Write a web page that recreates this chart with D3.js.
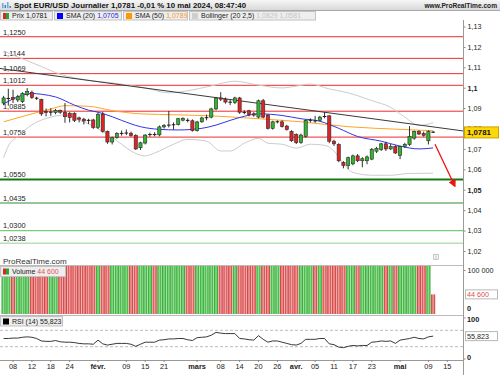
<!DOCTYPE html>
<html>
<head>
<meta charset="utf-8">
<script src="https://cdn.jsdelivr.net/npm/d3@7"></script>
<style>
  body { margin: 0; background: #fff; }
  svg { display: block; font-family: "Liberation Sans", Arial, sans-serif; }
</style>
</head>
<body>
<div id="chart"></div>
<script>
// trading days shown (MM-DD, 2024)
const days = ["01-04","01-05","01-08","01-09","01-10","01-11","01-12","01-15","01-16","01-17","01-18","01-19","01-22","01-23","01-24","01-25","01-26","01-29","01-30","01-31",
  "02-01","02-02","02-05","02-06","02-07","02-08","02-09","02-12","02-13","02-14","02-15","02-16","02-19","02-20","02-21","02-22","02-23","02-26","02-27","02-28","02-29",
  "03-01","03-04","03-05","03-06","03-07","03-08","03-11","03-12","03-13","03-14","03-15","03-18","03-19","03-20","03-21","03-22","03-25","03-26","03-27","03-28","03-29",
  "04-01","04-02","04-03","04-04","04-05","04-08","04-09","04-10","04-11","04-12","04-15","04-16","04-17","04-18","04-19","04-22","04-23","04-24","04-25","04-26","04-29","04-30",
  "05-01","05-02","05-03","05-06","05-07","05-08","05-09","05-10"];
const futureDays = ["05-13","05-14","05-15","05-16","05-17"];

const opens  = [1.0925,1.0946,1.0952,1.0940,1.0932,1.0967,1.0976,1.0950,1.0943,1.0884,1.0879,1.0878,1.0889,1.0879,1.0875,1.0874,1.0852,1.0846,1.0842,1.0842,
  1.0806,1.0870,1.0786,1.0734,1.0757,1.0775,1.0777,1.0777,1.0766,1.0706,1.0729,1.0770,1.0771,1.0769,1.0808,1.0815,1.0818,1.0820,1.0841,1.0842,1.0838,
  1.0790,1.0833,1.0852,1.0856,1.0896,1.0950,1.0944,1.0930,1.0927,1.0950,1.0880,1.0887,1.0872,1.0856,1.0936,1.0866,1.0801,1.0832,1.0833,1.0812,1.0785,
  1.0771,1.0731,1.0761,1.0840,1.0838,1.0840,1.0860,1.0862,1.0738,1.0722,1.0634,1.0618,1.0627,1.0666,1.0642,1.0642,1.0650,1.0689,1.0698,1.0725,1.0700,1.0712,
  1.0668,1.0712,1.0722,1.0753,1.0785,1.0775,1.0740,1.0783];
const highs  = [1.0960,1.0995,1.0990,1.0965,1.0978,1.0998,1.0986,1.0956,1.0946,1.0898,1.0900,1.0896,1.0893,1.0925,1.0880,1.0880,1.0858,1.0852,1.0848,1.0848,
  1.0878,1.0882,1.0790,1.0760,1.0782,1.0790,1.0795,1.0785,1.0772,1.0735,1.0772,1.0780,1.0782,1.0815,1.0822,1.0886,1.0830,1.0852,1.0855,1.0850,1.0845,
  1.0838,1.0858,1.0868,1.0902,1.0955,1.0978,1.0952,1.0940,1.0956,1.0955,1.0890,1.0892,1.0880,1.0942,1.0945,1.0870,1.0838,1.0840,1.0840,1.0818,1.0792,
  1.0776,1.0775,1.0845,1.0850,1.0862,1.0862,1.0880,1.0866,1.0745,1.0728,1.0640,1.0662,1.0672,1.0675,1.0660,1.0668,1.0705,1.0710,1.0730,1.0735,1.0725,1.0718,
  1.0716,1.0730,1.0812,1.0790,1.0792,1.0785,1.0792,1.0788];
const lows   = [1.0915,1.0912,1.0925,1.0930,1.0925,1.0958,1.0945,1.0940,1.0862,1.0860,1.0862,1.0870,1.0872,1.0828,1.0830,1.0832,1.0830,1.0820,1.0822,1.0798,
  1.0798,1.0780,1.0725,1.0722,1.0750,1.0765,1.0768,1.0760,1.0695,1.0695,1.0722,1.0760,1.0762,1.0762,1.0800,1.0805,1.0795,1.0815,1.0835,1.0830,1.0785,
  1.0785,1.0828,1.0840,1.0850,1.0890,1.0935,1.0922,1.0915,1.0920,1.0872,1.0870,1.0860,1.0858,1.0850,1.0850,1.0795,1.0795,1.0825,1.0805,1.0790,1.0735,
  1.0724,1.0725,1.0755,1.0830,1.0828,1.0835,1.0850,1.0728,1.0715,1.0635,1.0605,1.0601,1.0620,1.0635,1.0610,1.0625,1.0645,1.0680,1.0690,1.0690,1.0695,1.0676,
  1.0650,1.0705,1.0715,1.0745,1.0768,1.0760,1.0722,1.0778];
const closes = [1.0950,1.0949,1.0944,1.0956,1.0972,1.0982,1.0952,1.0947,1.0872,1.0878,1.0881,1.0889,1.0880,1.0858,1.0855,1.0840,1.0846,1.0837,1.0838,1.0806,
  1.0870,1.0786,1.0734,1.0755,1.0776,1.0777,1.0779,1.0765,1.0700,1.0730,1.0768,1.0771,1.0770,1.0808,1.0814,1.0818,1.0819,1.0848,1.0850,1.0838,1.0790,
  1.0832,1.0852,1.0854,1.0896,1.0950,1.0944,1.0930,1.0928,1.0950,1.0880,1.0878,1.0868,1.0866,1.0936,1.0856,1.0801,1.0833,1.0834,1.0809,1.0795,1.0740,
  1.0731,1.0768,1.0840,1.0841,1.0837,1.0856,1.0858,1.0738,1.0725,1.0642,1.0619,1.0657,1.0666,1.0642,1.0652,1.0661,1.0698,1.0703,1.0725,1.0700,1.0712,1.0680,
  1.0712,1.0722,1.0761,1.0785,1.0773,1.0767,1.0785,1.0781];

const volumes = [182000,175000,210000,198000,205000,221000,190000,160000,236000,214000,199000,187000,176000,208000,203000,215000,192000,181000,196000,240000,
  228000,251000,219000,197000,188000,176000,169000,172000,243000,211000,207000,183000,151000,195000,201000,226000,189000,178000,181000,186000,212000,
  203000,174000,185000,208000,232000,219000,171000,179000,192000,224000,198000,176000,173000,238000,229000,217000,168000,163000,177000,190000,152000,
  158000,196000,221000,183000,188000,175000,181000,247000,203000,236000,214000,205000,199000,187000,182000,170000,193000,178000,184000,196000,171000,188000,
  226000,201000,233000,176000,169000,172000,188000,44600];

const rsi = [50,50,51,51,53,54,53,50,44,43,43,45,42,41,41,40,38,37,37,36,
  46,37,34,36,38,38,38,36,31,36,41,41,41,46,47,49,49,50,50,47,45,
  52,53,54,58,65,63,62,62,62,50,49,47,46,57,48,41,44,44,41,38,35,
  34,38,48,48,48,50,50,37,35,29,27.6,31,33,32,33,33,41,42,44,43,44,38,
  46,48,50,53,50,49,54,55.823];

// indicator curves read at sample days
const sma20 = [["01-04",1.0920],["01-08",1.0945],["01-12",1.0972],["01-16",1.0968],["01-19",1.0955],["01-25",1.0915],["01-30",1.0890],["02-01",1.0880],
  ["02-06",1.0858],["02-08",1.0840],["02-14",1.0809],["02-20",1.0796],["02-26",1.0793],["03-04",1.0801],["03-07",1.0817],["03-12",1.0840],["03-15",1.0860],
  ["03-20",1.0872],["03-27",1.0864],["04-02",1.0848],["04-08",1.0836],["04-10",1.0820],["04-12",1.0801],["04-18",1.0761],["04-25",1.0738],["05-01",1.0714],
  ["05-07",1.0700],["05-10",1.0705]];
const sma50 = [["01-04",1.0833],["01-12",1.0872],["01-18",1.0896],["01-23",1.0912],["01-30",1.0909],["02-06",1.0888],["02-14",1.0872],["02-26",1.0867],
  ["03-06",1.0862],["03-20",1.0848],["04-02",1.0833],["04-16",1.0809],["05-01",1.0796],["05-10",1.0789]];
const bbUpper = [["01-04",1.1180],["01-09",1.1151],["01-16",1.1104],["01-22",1.1066],["01-30",1.1037],["02-08",1.1018],["02-15",1.0999],["02-22",1.0975],
  ["02-28",1.0985],["03-06",1.1009],["03-13",1.1032],["03-20",1.1013],["03-27",1.0999],["04-01",1.1008],["04-04",1.1018],["04-10",1.0994],["04-16",1.0975],
  ["04-23",1.0937],["04-29",1.0904],["05-02",1.0856],["05-07",1.0815],["05-10",1.0829]];
const bbLower = [["01-04",1.0657],["01-05",1.0714],["01-09",1.0761],["01-12",1.0818],["01-18",1.0856],["01-23",1.0866],["01-26",1.0842],["02-01",1.0799],
  ["02-05",1.0771],["02-08",1.0723],["02-12",1.0690],["02-15",1.0666],["02-19",1.0680],["02-23",1.0723],["02-28",1.0747],["03-05",1.0738],["03-08",1.0690],
  ["03-12",1.0690],["03-15",1.0728],["03-20",1.0752],["03-22",1.0728],["03-27",1.0723],["04-01",1.0704],["04-04",1.0723],["04-09",1.0718],["04-11",1.0690],
  ["04-15",1.0628],["04-17",1.0585],["04-23",1.0571],["04-29",1.0571],["05-03",1.0580],["05-10",1.0581]];

// drawn objects
const redLevels = [1.1250, 1.1144, 1.1069, 1.1012, 1.0885, 1.0758];
const greenLevels = [1.0550, 1.0435, 1.0300, 1.0238];
const greenStyles = [{c: "#127a12", w: 2}, {c: "#2e8f2e", w: 1}, {c: "#7ccb7c", w: 1.2}, {c: "#b4e2b4", w: 1.6}];
const trendline = [[0, 1.1092], [91, 1.0808]];   // [day index, price]
const arrow = [[91.4, 1.0723], [95.6, 1.0518]];

const priceTicks = [1.02, 1.03, 1.04, 1.05, 1.06, 1.07, 1.08, 1.09, 1.10, 1.11, 1.12, 1.13];
const boldTicks = [1.05, 1.10];
const tickDays = ["01-08","01-12","01-18","01-24","02-01","02-09","02-15","02-21","03-01","03-08","03-14","03-20","03-26",
  "04-01","04-05","04-11","04-17","04-23","05-01","05-09","05-15"];
const tickLabels = ["08","12","18","24","févr.","09","15","21","mars","08","14","20","26","avr.","05","11","17","23","mai","09","15"];
const monthTicks = ["févr.","mars","avr.","mai"];

const W = 500, H = 375, axisX = 463;
const fmt = v => String(+v.toFixed(4)).replace(".", ",");

const svg = d3.select("#chart").append("svg").attr("width", W).attr("height", H);
const defs = svg.append("defs");

// SCALES
const allDays = days.concat(futureDays);
const step = 4.72;
const x = d3.scaleBand().domain(allDays).range([1.24, 1.24 + step * allDays.length]).padding(0);
const cx = d => x(d) + x.bandwidth() / 2;
const xi = d3.scaleLinear().domain([0, allDays.length - 1]).range([cx(allDays[0]), cx(allDays[allDays.length - 1])]);
const y = d3.scaleLinear().domain([1.0136, 1.1332]).range([264, 20]);
const yv = d3.scaleLinear().domain([0, 100000]).range([314, 270]);
const yr = d3.scaleLinear().domain([0, 100]).range([359, 318]);

// clip paths
defs.append("clipPath").attr("id", "clipPrice").append("rect").attr("x", 0).attr("y", 20).attr("width", axisX).attr("height", 244);
defs.append("clipPath").attr("id", "clipVol").append("rect").attr("x", 0).attr("y", 266).attr("width", axisX).attr("height", 48);

// HEADER
const hg = defs.append("linearGradient").attr("id", "hdr").attr("x1", 0).attr("y1", 0).attr("x2", 0).attr("y2", 1);
hg.append("stop").attr("offset", 0).attr("stop-color", "#f6f6f6");
hg.append("stop").attr("offset", 1).attr("stop-color", "#d9d9d9");
svg.append("rect").attr("x", 0).attr("y", 0).attr("width", W).attr("height", 10).attr("fill", "url(#hdr)");
svg.append("line").attr("x1", 0).attr("x2", W).attr("y1", 10.5).attr("y2", 10.5).attr("stroke", "#a8a8a8");
[[2, 5, "#6fa8dc"], [4.5, 3, "#3d85c6"], [7, 6, "#6fa8dc"], [9.5, 2, "#3d85c6"]].forEach(b => {
  svg.append("rect").attr("x", b[0]).attr("y", 8 - b[1]).attr("width", 1.5).attr("height", b[1]).attr("fill", b[2]);
});
svg.append("text").attr("x", 14).attr("y", 8).attr("font-size", 7.2).attr("font-weight", "bold").attr("fill", "#111")
  .attr("textLength", 232).attr("lengthAdjust", "spacingAndGlyphs")
  .text("Spot EUR/USD Journalier 1,0781 -0,01 % 10 mai 2024, 08:47:40");
svg.append("text").attr("x", 497).attr("y", 8).attr("text-anchor", "end").attr("font-size", 6.6).attr("font-weight", "bold").attr("fill", "#222")
  .text("www.ProRealTime.com");

// LEGEND ROW
const legendItems = [
  {x0: 0, x1: 53, name: "Prix", val: "1,0781", vc: "#111", icon: "prix"},
  {x0: 54, x1: 122, name: "SMA (20)", val: "1,0705", vc: "#2727d8", icon: "#0000ff"},
  {x0: 123, x1: 188, name: "SMA (50)", val: "1,0789", vc: "#f39a1e", icon: "#ff9900"},
  {x0: 189, x1: 316, name: "Bollinger (20 2,5)", val: "1,0829 1,0581", vc: "#c4c4c4", icon: "#cfcfcf"}
];
legendItems.forEach(it => {
  svg.append("rect").attr("x", it.x0 + 0.5).attr("y", 11.5).attr("width", it.x1 - it.x0 - 1).attr("height", 8.5)
    .attr("fill", "#eeeeee").attr("stroke", "#c2c2c2");
  if (it.icon === "prix") {
    svg.append("rect").attr("x", it.x0 + 3).attr("y", 13).attr("width", 3).attr("height", 6).attr("fill", "#d42a2a");
    svg.append("rect").attr("x", it.x0 + 6).attr("y", 13).attr("width", 3).attr("height", 6).attr("fill", "#2ea32e");
  } else {
    svg.append("rect").attr("x", it.x0 + 3).attr("y", 13).attr("width", 6).attr("height", 6).attr("fill", it.icon);
  }
  const t = svg.append("text").attr("x", it.x0 + 12).attr("y", 18.4).attr("font-size", 7).attr("fill", "#222");
  t.append("tspan").text(it.name + " ");
  t.append("tspan").attr("fill", it.vc).text(it.val);
});

// PRICE PANEL
const price = svg.append("g").attr("clip-path", "url(#clipPrice)");

redLevels.forEach(v => {
  price.append("line").attr("x1", 0).attr("x2", axisX).attr("y1", y(v)).attr("y2", y(v))
    .attr("stroke", "#ee2a2a").attr("stroke-width", 1);
});
greenLevels.forEach((v, i) => {
  price.append("line").attr("x1", 0).attr("x2", axisX).attr("y1", y(v)).attr("y2", y(v))
    .attr("stroke", greenStyles[i].c).attr("stroke-width", greenStyles[i].w);
});
redLevels.concat(greenLevels).forEach(v => {
  price.append("text").attr("x", 3).attr("y", y(v) - 2.2).attr("font-size", 7.4).attr("fill", "#222")
    .text(d3.format(".4f")(v).replace(".", ","));
});

// bollinger + sma curves
const curve = d3.line().x(d => cx(d[0])).y(d => y(d[1])).curve(d3.curveMonotoneX);
price.append("path").attr("d", curve(bbUpper)).attr("fill", "none").attr("stroke", "#cccccc").attr("stroke-width", 1);
price.append("path").attr("d", curve(bbLower)).attr("fill", "none").attr("stroke", "#cccccc").attr("stroke-width", 1);
price.append("path").attr("d", curve(sma50)).attr("fill", "none").attr("stroke", "#ffa524").attr("stroke-width", 1);
price.append("path").attr("d", curve(sma20)).attr("fill", "none").attr("stroke", "#3434e8").attr("stroke-width", 1);

// trendline extended across panel
const tSlope = (trendline[1][1] - trendline[0][1]) / (trendline[1][0] - trendline[0][0]);
const iLeft = xi.invert(0), iRight = xi.invert(axisX);
price.append("line")
  .attr("x1", xi(iLeft)).attr("y1", y(trendline[0][1] + tSlope * (iLeft - trendline[0][0])))
  .attr("x2", xi(iRight)).attr("y2", y(trendline[0][1] + tSlope * (iRight - trendline[0][0])))
  .attr("stroke", "#3a3a3a").attr("stroke-width", 1);

// candles
const candles = days.map((d, i) => ({d, o: opens[i], h: highs[i], l: lows[i], c: closes[i]}));
const cg = price.append("g");
candles.forEach(k => {
  const xc = cx(k.d);
  cg.append("line").attr("x1", xc).attr("x2", xc).attr("y1", y(k.h)).attr("y2", y(k.l))
    .attr("stroke", "#1a1a1a").attr("stroke-width", 0.9);
  const top = y(Math.max(k.o, k.c)), bot = y(Math.min(k.o, k.c));
  if (bot - top < 1.2) {
    cg.append("line").attr("x1", xc - 1.8).attr("x2", xc + 1.8).attr("y1", (top + bot) / 2).attr("y2", (top + bot) / 2)
      .attr("stroke", "#1a1a1a").attr("stroke-width", 1);
  } else {
    cg.append("rect").attr("x", xc - 1.6).attr("y", top).attr("width", 3.2).attr("height", bot - top)
      .attr("fill", k.c >= k.o ? "#2fb52f" : "#e02222").attr("stroke", "#2a2a2a").attr("stroke-width", 0.6);
  }
});

// red arrow
defs.append("marker").attr("id", "ah").attr("viewBox", "0 0 10 10").attr("refX", 8).attr("refY", 5)
  .attr("markerWidth", 6).attr("markerHeight", 6).attr("orient", "auto")
  .append("path").attr("d", "M0,0 L10,5 L0,10 z").attr("fill", "#f01010");
svg.append("line").attr("x1", xi(arrow[0][0])).attr("y1", y(arrow[0][1])).attr("x2", xi(arrow[1][0])).attr("y2", y(arrow[1][1]))
  .attr("stroke", "#f01010").attr("stroke-width", 1.3).attr("marker-end", "url(#ah)");

svg.append("text").attr("x", 3).attr("y", 263.5).attr("font-size", 8).attr("fill", "#333").text("ProRealTime.com");
svg.append("rect").attr("x", 433.5).attr("y", 254.5).attr("width", 5).attr("height", 5).attr("fill", "#f4f4f4").attr("stroke", "#aaa").attr("stroke-width", 0.6);
svg.append("text").attr("x", 436).attr("y", 258.8).attr("text-anchor", "middle").attr("font-size", 4.5).attr("fill", "#777").text("i");

// price axis
const fmtTick = v => String(+v.toFixed(2)).replace(".", ",");
const pAxis = svg.append("g").attr("transform", `translate(${axisX},0)`)
  .call(d3.axisRight(y).tickValues(priceTicks).tickSize(2.5).tickPadding(2).tickFormat(fmtTick));
pAxis.select(".domain").remove();
pAxis.selectAll("text").attr("font-size", 7.2).attr("fill", "#222").attr("font-family", "Liberation Sans, Arial, sans-serif")
  .attr("font-weight", d => boldTicks.some(b => Math.abs(b - d) < 1e-6) ? "bold" : "normal");
pAxis.selectAll("line").attr("stroke", "#888");

// current price tag
const cp = closes[closes.length - 1];
svg.append("rect").attr("x", 464.5).attr("y", y(cp) - 5.5).attr("width", 34).attr("height", 11)
  .attr("fill", "#ffd60a").attr("stroke", "#c9a400");
svg.append("text").attr("x", 467).attr("y", y(cp) + 3).attr("font-size", 7.8).attr("font-weight", "bold").attr("fill", "#111").text(fmt(cp));

// VOLUME PANEL
svg.append("line").attr("x1", 0).attr("x2", axisX).attr("y1", 265.5).attr("y2", 265.5).attr("stroke", "#bbb");
const mkGrad = (id, edge, mid) => {
  const g = defs.append("linearGradient").attr("id", id).attr("x1", 0).attr("x2", 1).attr("y1", 0).attr("y2", 0);
  g.append("stop").attr("offset", 0).attr("stop-color", edge);
  g.append("stop").attr("offset", 0.5).attr("stop-color", mid);
  g.append("stop").attr("offset", 1).attr("stop-color", edge);
};
mkGrad("gUp", "#1f9f1f", "#8ee08e");
mkGrad("gDn", "#cc2a2a", "#f2a4a4");
const vol = svg.append("g").attr("clip-path", "url(#clipVol)");
candles.forEach((k, i) => {
  vol.append("rect").attr("x", x(k.d) + 0.3).attr("y", yv(volumes[i])).attr("width", x.bandwidth() - 0.6)
    .attr("height", yv(0) - yv(volumes[i])).attr("fill", k.c >= k.o ? "url(#gUp)" : "url(#gDn)");
});
svg.append("rect").attr("x", 0.5).attr("y", 266.5).attr("width", 65).attr("height", 10).attr("fill", "#eeeeee").attr("stroke", "#c2c2c2");
svg.append("rect").attr("x", 3).attr("y", 268.5).attr("width", 3).attr("height", 6).attr("fill", "#d42a2a");
svg.append("rect").attr("x", 6).attr("y", 268.5).attr("width", 3).attr("height", 6).attr("fill", "#2ea32e");
const vt = svg.append("text").attr("x", 12).attr("y", 274.4).attr("font-size", 7).attr("fill", "#222");
vt.append("tspan").text("Volume ");
vt.append("tspan").attr("fill", "#e05555").text(d3.format(",")(volumes[volumes.length - 1]).replace(",", " "));

const vAxis = svg.append("g").attr("transform", `translate(${axisX},0)`)
  .call(d3.axisRight(yv).tickValues([100000]).tickSize(2.5).tickPadding(2).tickFormat(() => "100 000"));
vAxis.select(".domain").remove();
vAxis.selectAll("text").attr("font-size", 7.2).attr("fill", "#222").attr("font-family", "Liberation Sans, Arial, sans-serif");
vAxis.selectAll("line").attr("stroke", "#888");
svg.append("text").attr("x", 467).attr("y", yv(0) - 3.5).attr("font-size", 7.4).attr("font-weight", "bold").attr("fill", "#222").text("0");
const lastVol = volumes[volumes.length - 1];
svg.append("rect").attr("x", 465.5).attr("y", yv(lastVol) - 4.5).attr("width", 32).attr("height", 9).attr("fill", "#fff").attr("stroke", "#b8b8b8");
svg.append("text").attr("x", 467).attr("y", yv(lastVol) + 2.6).attr("font-size", 7.2).attr("fill", "#e05050").text("44 600");

// RSI PANEL
svg.append("line").attr("x1", 0).attr("x2", axisX).attr("y1", 315.5).attr("y2", 315.5).attr("stroke", "#bbb");
[70, 30].forEach(v => {
  svg.append("line").attr("x1", 0).attr("x2", axisX).attr("y1", yr(v)).attr("y2", yr(v))
    .attr("stroke", "#aaa").attr("stroke-width", 0.8).attr("stroke-dasharray", "3,2");
});
const rsiLine = d3.line().x((d, i) => cx(days[i])).y(d => yr(d));
svg.append("path").attr("d", rsiLine(rsi)).attr("fill", "none").attr("stroke", "#222").attr("stroke-width", 0.9);
svg.append("rect").attr("x", 0.5).attr("y", 316.5).attr("width", 62).attr("height", 9.5).attr("fill", "#eeeeee").attr("stroke", "#c2c2c2");
svg.append("rect").attr("x", 3).attr("y", 318.5).attr("width", 6).attr("height", 6).attr("fill", "#000");
svg.append("text").attr("x", 12).attr("y", 324).attr("font-size", 7).attr("fill", "#222").text("RSI (14) 55,823");
svg.append("text").attr("x", 467).attr("y", yr(100) + 3.5).attr("font-size", 7.4).attr("font-weight", "bold").attr("fill", "#222").text("100");
svg.append("text").attr("x", 467).attr("y", yr(0) + 1).attr("font-size", 7.4).attr("font-weight", "bold").attr("fill", "#222").text("0");
const lastRsi = rsi[rsi.length - 1];
svg.append("rect").attr("x", 465.5).attr("y", yr(lastRsi) - 4.5).attr("width", 32).attr("height", 9).attr("fill", "#fff").attr("stroke", "#b8b8b8");
svg.append("text").attr("x", 467).attr("y", yr(lastRsi) + 2.6).attr("font-size", 7.2).attr("fill", "#222").text(fmt(lastRsi));
svg.append("line").attr("x1", axisX + 2.5).attr("x2", axisX).attr("y1", yr(100)).attr("y2", yr(100)).attr("stroke", "#888");
svg.append("line").attr("x1", axisX + 2.5).attr("x2", axisX).attr("y1", yr(0)).attr("y2", yr(0)).attr("stroke", "#888");

// X AXIS
const labelOf = d => tickLabels[tickDays.indexOf(d)];
const xAxis = svg.append("g").attr("transform", "translate(0,360)")
  .call(d3.axisBottom(x).tickValues(tickDays).tickSize(2).tickPadding(2).tickFormat(labelOf));
xAxis.select(".domain").attr("d", `M0,0.5H${axisX}`).attr("stroke", "#999");
xAxis.selectAll("line").attr("stroke", "#888");
xAxis.selectAll("text").attr("font-size", 7.4).attr("fill", "#222").attr("font-family", "Liberation Sans, Arial, sans-serif")
  .attr("font-weight", d => monthTicks.includes(labelOf(d)) ? "bold" : "normal");

// right axis line
svg.append("line").attr("x1", axisX + 0.5).attr("x2", axisX + 0.5).attr("y1", 20).attr("y2", H).attr("stroke", "#9a9a9a");
</script>
</body>
</html>
